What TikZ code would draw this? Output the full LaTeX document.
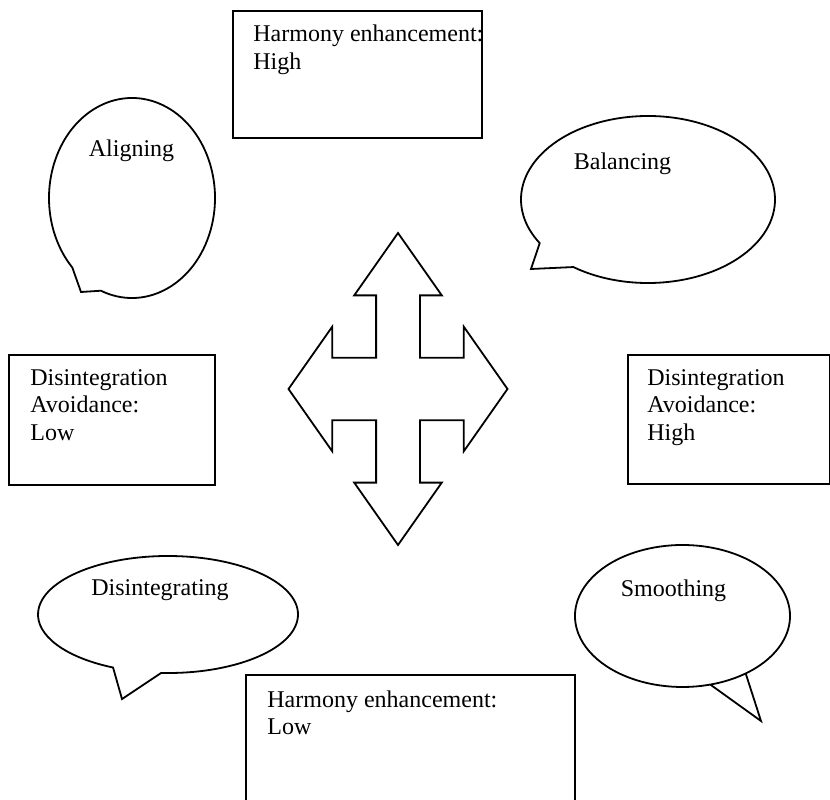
\documentclass[tikz,border=0pt]{standalone}
\usepackage{fontspec}
\setmainfont{Liberation Serif}
\usepackage{tikz}
\usetikzlibrary{positioning}

\tikzset{
	outline/.style={draw=black, line width=0.9pt},
	frame/.style={outline, rectangle, anchor=north west, inner sep=0pt},
	bubble/.style={outline, line join=miter},
	txt/.style={font=\fontsize{12pt}{13.8pt}\selectfont, inner sep=0pt, align=left}
}

\begin{document}
\begin{tikzpicture}[x=0.5pt, y=0.5pt]
	
	% page of 830 x 799 units, origin at lower left
	\useasboundingbox (0,0) rectangle (830,799);
	\clip (0,0) rectangle (830,799);
	
	%%%%%%%%%%%%%%%%%%%%%%%%%%%%%%%%%%%%%%%%%%%%%%%%%%%%%%%%%%%%%%
	% the four boxes: frame first, text set from its corner
	% (base of a text = baseline of its LAST line)
	\node[frame, minimum width=124.5pt, minimum height=63.5pt] (HEhigh) at (232,789) {};
	\node[frame, minimum width=103pt,   minimum height=65pt]   (DAlow)  at (8,445)    {};
	\node[frame, minimum width=101pt,   minimum height=64.5pt] (DAhigh) at (627,445)  {};
	\node[frame, minimum width=164.5pt, minimum height=80pt]   (HElow)  at (245,125)  {};
	
	\node[txt, anchor=base west] (HEhighT) at (253,729.4) {Harmony enhancement:\\High};
	\node[txt, anchor=base west] (DAlowT)  at (30,358.8)  {Disintegration\\Avoidance:\\Low};
	\node[txt, anchor=base west] (DAhighT) at (647,358.8) {Disintegration\\Avoidance:\\High};
	\node[txt, anchor=base west] (HElowT)  at (267,64.4)  {Harmony enhancement:\\Low};
	
	%%%%%%%%%%%%%%%%%%%%%%%%%%%%%%%%%%%%%%%%%%%%%%%%%%%%%%%%%%%%%%
	% speech bubbles: centre, tail tip, then arc (angle:rx and ry)
	\coordinate (alignC)  at (132,601);
	\coordinate (alignP)  at (81,507);
	\coordinate (balC)    at (648,599.5);
	\coordinate (balP)    at (531,530);
	\coordinate (disC)    at (168,184.5);
	\coordinate (disP)    at (122,100);
	\coordinate (smoothC) at (682.5,183);
	\coordinate (smoothP) at (761,78);
	
	\draw[bubble] (alignC) ++(248:83 and 100)
		arc[start angle=248, end angle=584, x radius=83, y radius=100] -- (alignP) -- cycle;
	\draw[bubble] (balC) ++(234:127 and 83.5)
		arc[start angle=234, end angle=571.5, x radius=127, y radius=83.5] -- (balP) -- cycle;
	\draw[bubble] (disC) ++(267:130 and 58.5)
		arc[start angle=267, end angle=605, x radius=130, y radius=58.5] -- (disP) -- cycle;
	\draw[bubble] (smoothC) ++(285:107.5 and 71)
		arc[start angle=285, end angle=666, x radius=107.5, y radius=71] -- (smoothP) -- cycle;
	
	\node[txt, anchor=base] (aligning)       at (131.5,642) {Aligning};
	\node[txt, anchor=base] (balancing)      at (622.5,629) {Balancing};
	\node[txt, anchor=base] (disintegrating) at (160,203.3) {Disintegrating};
	\node[txt, anchor=base] (smoothing)      at (673.5,202.3) {Smoothing};
	
	%%%%%%%%%%%%%%%%%%%%%%%%%%%%%%%%%%%%%%%%%%%%%%%%%%%%%%%%%%%%%%
	% four-way arrow in the middle, unit shape stretched
	\begin{scope}[shift={(398,410)}, x=54.75pt, y=78pt]
		\draw[outline, line join=miter]
			(0,1) -- (0.4,0.6) -- (0.2,0.6) -- (0.2,0.2) -- (0.6,0.2) -- (0.6,0.4)
			-- (1,0) -- (0.6,-0.4) -- (0.6,-0.2) -- (0.2,-0.2) -- (0.2,-0.6) -- (0.4,-0.6)
			-- (0,-1) -- (-0.4,-0.6) -- (-0.2,-0.6) -- (-0.2,-0.2) -- (-0.6,-0.2) -- (-0.6,-0.4)
			-- (-1,0) -- (-0.6,0.4) -- (-0.6,0.2) -- (-0.2,0.2) -- (-0.2,0.6) -- (-0.4,0.6) -- cycle;
	\end{scope}
	
\end{tikzpicture}
\end{document}
